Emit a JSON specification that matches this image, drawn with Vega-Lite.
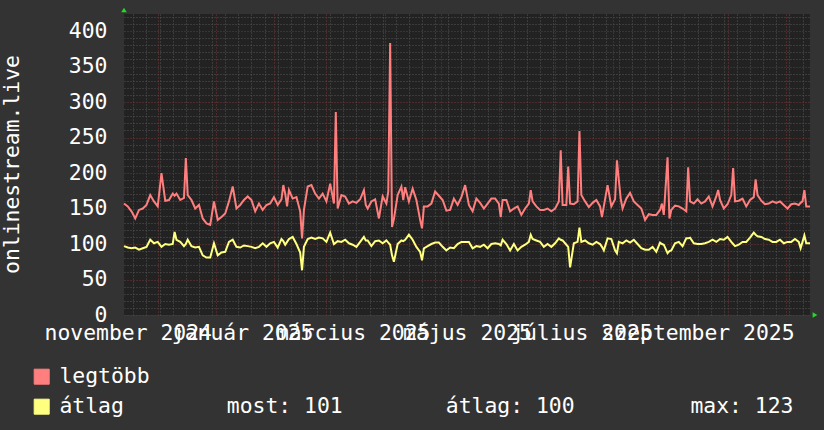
{
"$schema": "https://vega.github.io/schema/vega-lite/v6.json",
"width": 686, "height": 301,
"autosize": {"type": "none"},
"padding": {"left": 124, "top": 14, "right": 14, "bottom": 115},
"background": "#333333",
"config": {"view": {"fill": "#222222", "stroke": null}, "font": "DejaVu Sans Mono"},
"data": {"values": [
{"t":"2024-11-13","legtöbb":157,"átlag":97},{"t":"2024-11-15","legtöbb":153,"átlag":95},{"t":"2024-11-17","legtöbb":146,"átlag":94},{"t":"2024-11-19","legtöbb":136,"átlag":95},{"t":"2024-11-21","legtöbb":148,"átlag":92},{"t":"2024-11-23","legtöbb":150,"átlag":94},{"t":"2024-11-25","legtöbb":155,"átlag":96},{"t":"2024-11-27","legtöbb":169,"átlag":106},{"t":"2024-11-29","legtöbb":160,"átlag":101},
{"t":"2024-12-01","legtöbb":153,"átlag":103},{"t":"2024-12-03","legtöbb":200,"átlag":96},{"t":"2024-12-05","legtöbb":161,"átlag":100},{"t":"2024-12-07","legtöbb":162,"átlag":99},{"t":"2024-12-09","legtöbb":171,"átlag":100},{"t":"2024-12-10","legtöbb":168,"átlag":117},{"t":"2024-12-11","legtöbb":171,"átlag":106},{"t":"2024-12-13","legtöbb":162,"átlag":103},{"t":"2024-12-15","legtöbb":165,"átlag":97},{"t":"2024-12-16","legtöbb":221,"átlag":100},{"t":"2024-12-17","legtöbb":169,"átlag":106},{"t":"2024-12-19","legtöbb":162,"átlag":97},{"t":"2024-12-21","legtöbb":150,"átlag":95},{"t":"2024-12-23","legtöbb":155,"átlag":96},{"t":"2024-12-25","legtöbb":136,"átlag":84},{"t":"2024-12-27","legtöbb":129,"átlag":81},{"t":"2024-12-29","legtöbb":127,"átlag":81},{"t":"2024-12-31","legtöbb":160,"átlag":101},
{"t":"2025-01-02","legtöbb":134,"átlag":84},{"t":"2025-01-04","legtöbb":138,"átlag":88},{"t":"2025-01-06","legtöbb":143,"átlag":89},{"t":"2025-01-08","legtöbb":160,"átlag":103},{"t":"2025-01-10","legtöbb":181,"átlag":106},{"t":"2025-01-12","legtöbb":150,"átlag":96},{"t":"2025-01-14","legtöbb":155,"átlag":95},{"t":"2025-01-16","legtöbb":162,"átlag":98},{"t":"2025-01-18","legtöbb":167,"átlag":97},{"t":"2025-01-20","legtöbb":162,"átlag":96},{"t":"2025-01-22","legtöbb":146,"átlag":94},{"t":"2025-01-24","legtöbb":157,"átlag":96},{"t":"2025-01-26","legtöbb":148,"átlag":101},{"t":"2025-01-28","legtöbb":155,"átlag":96},{"t":"2025-01-30","legtöbb":157,"átlag":101},
{"t":"2025-02-01","legtöbb":166,"átlag":103},{"t":"2025-02-03","legtöbb":155,"átlag":95},{"t":"2025-02-05","legtöbb":163,"átlag":107},{"t":"2025-02-06","legtöbb":183,"átlag":104},{"t":"2025-02-07","legtöbb":171,"átlag":99},{"t":"2025-02-08","legtöbb":153,"átlag":103},{"t":"2025-02-09","legtöbb":176,"átlag":107},{"t":"2025-02-11","legtöbb":164,"átlag":110},{"t":"2025-02-13","legtöbb":166,"átlag":100},{"t":"2025-02-15","legtöbb":146,"átlag":88},{"t":"2025-02-16","legtöbb":108,"átlag":63},{"t":"2025-02-17","legtöbb":148,"átlag":96},{"t":"2025-02-19","legtöbb":181,"átlag":107},{"t":"2025-02-21","legtöbb":183,"átlag":109},{"t":"2025-02-23","legtöbb":171,"átlag":107},{"t":"2025-02-25","legtöbb":164,"átlag":109},{"t":"2025-02-27","legtöbb":171,"átlag":108},
{"t":"2025-03-01","legtöbb":160,"átlag":103},{"t":"2025-03-03","legtöbb":185,"átlag":116},{"t":"2025-03-05","legtöbb":157,"átlag":100},{"t":"2025-03-06","legtöbb":286,"átlag":102},{"t":"2025-03-07","legtöbb":150,"átlag":104},{"t":"2025-03-09","legtöbb":169,"átlag":103},{"t":"2025-03-11","legtöbb":167,"átlag":106},{"t":"2025-03-13","legtöbb":157,"átlag":101},{"t":"2025-03-15","legtöbb":160,"átlag":99},{"t":"2025-03-17","legtöbb":158,"átlag":96},{"t":"2025-03-19","legtöbb":163,"átlag":103},{"t":"2025-03-21","legtöbb":176,"átlag":110},{"t":"2025-03-22","legtöbb":155,"átlag":105},{"t":"2025-03-23","legtöbb":150,"átlag":105},{"t":"2025-03-25","legtöbb":160,"átlag":97},{"t":"2025-03-27","legtöbb":163,"átlag":104},{"t":"2025-03-29","legtöbb":136,"átlag":105},{"t":"2025-03-31","legtöbb":167,"átlag":101},
{"t":"2025-04-02","legtöbb":157,"átlag":105},{"t":"2025-04-03","legtöbb":174,"átlag":102},{"t":"2025-04-04","legtöbb":383,"átlag":99},{"t":"2025-04-05","legtöbb":124,"átlag":84},{"t":"2025-04-06","legtöbb":135,"átlag":75},{"t":"2025-04-08","legtöbb":169,"átlag":100},{"t":"2025-04-10","legtöbb":181,"átlag":105},{"t":"2025-04-11","legtöbb":162,"átlag":104},{"t":"2025-04-12","legtöbb":180,"átlag":106},{"t":"2025-04-14","legtöbb":160,"átlag":113},{"t":"2025-04-16","legtöbb":178,"átlag":106},{"t":"2025-04-18","legtöbb":162,"átlag":96},{"t":"2025-04-20","legtöbb":134,"átlag":89},{"t":"2025-04-21","legtöbb":122,"átlag":77},{"t":"2025-04-22","legtöbb":153,"átlag":94},{"t":"2025-04-24","legtöbb":153,"átlag":97},{"t":"2025-04-26","legtöbb":157,"átlag":100},{"t":"2025-04-28","legtöbb":174,"átlag":102},{"t":"2025-04-30","legtöbb":168,"átlag":102},
{"t":"2025-05-02","legtöbb":162,"átlag":96},{"t":"2025-05-04","legtöbb":147,"átlag":91},{"t":"2025-05-06","legtöbb":148,"átlag":95},{"t":"2025-05-08","legtöbb":164,"átlag":94},{"t":"2025-05-10","legtöbb":155,"átlag":100},{"t":"2025-05-12","legtöbb":166,"átlag":103},{"t":"2025-05-14","legtöbb":183,"átlag":103},{"t":"2025-05-16","legtöbb":155,"átlag":103},{"t":"2025-05-18","legtöbb":146,"átlag":94},{"t":"2025-05-20","legtöbb":164,"átlag":97},{"t":"2025-05-22","legtöbb":158,"átlag":96},{"t":"2025-05-24","legtöbb":150,"átlag":99},{"t":"2025-05-26","legtöbb":157,"átlag":94},{"t":"2025-05-28","legtöbb":164,"átlag":100},{"t":"2025-05-30","legtöbb":164,"átlag":101},
{"t":"2025-06-01","legtöbb":157,"átlag":100},{"t":"2025-06-02","legtöbb":138,"átlag":98},{"t":"2025-06-03","legtöbb":162,"átlag":106},{"t":"2025-06-05","legtöbb":162,"átlag":100},{"t":"2025-06-07","legtöbb":146,"átlag":91},{"t":"2025-06-09","legtöbb":150,"átlag":100},{"t":"2025-06-11","legtöbb":153,"átlag":91},{"t":"2025-06-13","legtöbb":141,"átlag":96},{"t":"2025-06-15","legtöbb":150,"átlag":99},{"t":"2025-06-17","legtöbb":157,"átlag":103},{"t":"2025-06-18","legtöbb":176,"átlag":113},{"t":"2025-06-19","legtöbb":160,"átlag":107},{"t":"2025-06-21","legtöbb":153,"átlag":105},{"t":"2025-06-23","legtöbb":148,"átlag":103},{"t":"2025-06-25","legtöbb":148,"átlag":96},{"t":"2025-06-27","legtöbb":150,"átlag":100},{"t":"2025-06-29","legtöbb":146,"átlag":96},
{"t":"2025-07-01","legtöbb":150,"átlag":101},{"t":"2025-07-03","legtöbb":160,"átlag":108},{"t":"2025-07-04","legtöbb":232,"átlag":106},{"t":"2025-07-05","legtöbb":155,"átlag":105},{"t":"2025-07-07","legtöbb":155,"átlag":99},{"t":"2025-07-08","legtöbb":209,"átlag":96},{"t":"2025-07-09","legtöbb":157,"átlag":67},{"t":"2025-07-11","legtöbb":156,"átlag":101},{"t":"2025-07-13","legtöbb":160,"átlag":103},{"t":"2025-07-14","legtöbb":259,"átlag":123},{"t":"2025-07-15","legtöbb":169,"átlag":103},{"t":"2025-07-17","legtöbb":160,"átlag":105},{"t":"2025-07-19","legtöbb":152,"átlag":101},{"t":"2025-07-21","legtöbb":158,"átlag":99},{"t":"2025-07-23","legtöbb":162,"átlag":103},{"t":"2025-07-25","legtöbb":153,"átlag":100},{"t":"2025-07-26","legtöbb":138,"átlag":96},{"t":"2025-07-27","legtöbb":153,"átlag":91},{"t":"2025-07-29","legtöbb":183,"átlag":108},{"t":"2025-07-31","legtöbb":153,"átlag":107},
{"t":"2025-08-02","legtöbb":163,"átlag":91},{"t":"2025-08-03","legtöbb":218,"átlag":87},{"t":"2025-08-04","legtöbb":190,"átlag":103},{"t":"2025-08-05","legtöbb":164,"átlag":102},{"t":"2025-08-06","legtöbb":150,"átlag":101},{"t":"2025-08-08","legtöbb":164,"átlag":105},{"t":"2025-08-10","legtöbb":172,"átlag":102},{"t":"2025-08-12","legtöbb":160,"átlag":106},{"t":"2025-08-14","legtöbb":155,"átlag":100},{"t":"2025-08-16","legtöbb":150,"átlag":94},{"t":"2025-08-18","legtöbb":134,"átlag":92},{"t":"2025-08-20","legtöbb":142,"átlag":92},{"t":"2025-08-22","legtöbb":141,"átlag":96},{"t":"2025-08-24","legtöbb":141,"átlag":89},{"t":"2025-08-26","legtöbb":148,"átlag":102},{"t":"2025-08-27","legtöbb":157,"átlag":100},{"t":"2025-08-28","legtöbb":141,"átlag":99},{"t":"2025-08-30","legtöbb":222,"átlag":87},{"t":"2025-08-31","legtöbb":136,"átlag":90},
{"t":"2025-09-01","legtöbb":148,"átlag":91},{"t":"2025-09-03","legtöbb":154,"átlag":101},{"t":"2025-09-05","legtöbb":153,"átlag":103},{"t":"2025-09-07","legtöbb":150,"átlag":97},{"t":"2025-09-09","legtöbb":146,"átlag":108},{"t":"2025-09-10","legtöbb":208,"átlag":108},{"t":"2025-09-11","legtöbb":160,"átlag":109},{"t":"2025-09-13","legtöbb":157,"átlag":101},{"t":"2025-09-15","legtöbb":163,"átlag":100},{"t":"2025-09-17","legtöbb":157,"átlag":100},{"t":"2025-09-19","legtöbb":160,"átlag":101},{"t":"2025-09-21","legtöbb":167,"átlag":103},{"t":"2025-09-23","legtöbb":153,"átlag":106},{"t":"2025-09-25","legtöbb":167,"átlag":103},{"t":"2025-09-26","legtöbb":176,"átlag":105},{"t":"2025-09-27","legtöbb":162,"átlag":107},{"t":"2025-09-29","legtöbb":150,"átlag":106},
{"t":"2025-10-01","legtöbb":156,"átlag":110},{"t":"2025-10-03","legtöbb":169,"átlag":103},{"t":"2025-10-04","legtöbb":207,"átlag":100},{"t":"2025-10-05","legtöbb":160,"átlag":97},{"t":"2025-10-07","legtöbb":161,"átlag":99},{"t":"2025-10-09","legtöbb":164,"átlag":103},{"t":"2025-10-11","legtöbb":153,"átlag":103},{"t":"2025-10-13","legtöbb":162,"átlag":109},{"t":"2025-10-15","legtöbb":166,"átlag":116},{"t":"2025-10-16","legtöbb":191,"átlag":113},{"t":"2025-10-17","legtöbb":169,"átlag":111},{"t":"2025-10-19","legtöbb":161,"átlag":110},{"t":"2025-10-21","legtöbb":156,"átlag":107},{"t":"2025-10-23","legtöbb":157,"átlag":106},{"t":"2025-10-25","legtöbb":160,"átlag":103},{"t":"2025-10-27","legtöbb":158,"átlag":103},{"t":"2025-10-29","legtöbb":160,"átlag":106},{"t":"2025-10-31","legtöbb":155,"átlag":101},
{"t":"2025-11-02","legtöbb":150,"átlag":103},{"t":"2025-11-04","legtöbb":156,"átlag":103},{"t":"2025-11-06","legtöbb":157,"átlag":107},{"t":"2025-11-08","legtöbb":155,"átlag":103},{"t":"2025-11-09","legtöbb":158,"átlag":94},{"t":"2025-11-10","legtöbb":160,"átlag":103},{"t":"2025-11-11","legtöbb":176,"átlag":112},{"t":"2025-11-12","legtöbb":153,"átlag":101},{"t":"2025-11-14","legtöbb":153,"átlag":101}
]},
"layer": [
{
"transform": [{"fold": ["legtöbb", "átlag"], "as": ["sorozat", "v"]}],
"mark": {"type": "line", "strokeWidth": 2},
"encoding": {
"x": {"field": "t", "type": "temporal", "scale": {"type": "utc", "domain": [1731456000000, 1763078400000]},
"axis": {"orient": "bottom", "values": [1731888000000,1732492800000,1733097600000,1733702400000,1734307200000,1734912000000,1735516800000,1736121600000,1736726400000,1737331200000,1737936000000,1738540800000,1739145600000,1739750400000,1740355200000,1740960000000,1741564800000,1742169600000,1742774400000,1743379200000,1743984000000,1744588800000,1745193600000,1745798400000,1746403200000,1747008000000,1747612800000,1748217600000,1748822400000,1749427200000,1750032000000,1750636800000,1751241600000,1751846400000,1752451200000,1753056000000,1753660800000,1754265600000,1754870400000,1755475200000,1756080000000,1756684800000,1757289600000,1757894400000,1758499200000,1759104000000,1759708800000,1760313600000,1760918400000,1761523200000,1762128000000,1762732800000],
"grid": true, "gridColor": "#555555", "gridDash": [1, 2], "gridWidth": 1, "labels": false, "ticks": false, "domain": false, "title": null}},
"y": {"field": "v", "type": "quantitative", "scale": {"domain": [0, 424], "nice": false},
"axis": {"orient": "left", "values": [10,20,30,40,60,70,80,90,110,120,130,140,160,170,180,190,210,220,230,240,260,270,280,290,310,320,330,340,360,370,380,390,410,420],
"grid": true, "gridColor": "#555555", "gridDash": [1, 2], "gridWidth": 1, "labels": false, "ticks": false, "domain": false, "title": null}},
"color": {"field": "sorozat", "type": "nominal", "scale": {"domain": ["legtöbb", "átlag"], "range": ["#ff7f7f", "#ffff80"]},
"legend": {"orient": "none", "legendX": -93, "legendY": 352, "direction": "vertical", "title": null, "padding": 0,
"symbolType": "square", "symbolSize": 225, "labelFont": "DejaVu Sans Mono", "labelFontSize": 21.4, "labelColor": "#ffffff", "labelOffset": 7, "rowPadding": 7, "labelLimit": 900,
"labelExpr": "datum.label == 'átlag' ? 'átlag\u00a0\u00a0\u00a0\u00a0\u00a0\u00a0\u00a0\u00a0most: 101\u00a0\u00a0\u00a0\u00a0\u00a0\u00a0\u00a0\u00a0átlag: 100\u00a0\u00a0\u00a0\u00a0\u00a0\u00a0\u00a0\u00a0\u00a0max: 123' : datum.label",
"encode": {"symbols": {"update": {"fill": {"scale": "color", "field": "value"}, "fillOpacity": {"value": 1}, "stroke": {"value": "#000000"}, "strokeWidth": {"value": 1}, "opacity": {"value": 1}}}}}}
}
},
{
"data": {"values": [{}]},
"mark": {"type": "point", "shape": "triangle-up", "filled": true, "size": 30, "color": "#22dd22", "opacity": 1, "yOffset": -4},
"encoding": {
"x": {"datum": 1731456000000, "type": "temporal",
"axis": {"orient": "bottom", "values": [1733011200000,1735689600000,1738368000000,1740787200000,1743465600000,1746057600000,1748736000000,1751328000000,1754006400000,1756684800000,1759276800000,1761955200000],
"grid": true, "gridColor": "#7a3434", "gridDash": [1, 2], "gridWidth": 1, "labels": false, "ticks": false, "domain": false, "title": null}},
"y": {"datum": 424, "type": "quantitative",
"axis": {"orient": "left", "values": [0,50,100,150,200,250,300,350,400], "grid": true, "gridColor": "#7a3434", "gridDash": [1, 2], "gridWidth": 1,
"ticks": false, "domain": false, "labelFont": "DejaVu Sans Mono", "labelFontSize": 21.4, "labelColor": "#ffffff", "labelPadding": 17, "labelFlush": false, "labelOverlap": false,
"title": "onlinestream.live", "titleFont": "DejaVu Sans Mono", "titleFontSize": 21.4, "titleFontWeight": "normal", "titleColor": "#ffffff", "titleAngle": -90, "titleX": -112, "titleY": 150, "titleAlign": "center", "titleBaseline": "middle"}}
}
},
{
"data": {"values": [{}]},
"mark": {"type": "point", "shape": "triangle-right", "filled": true, "size": 30, "color": "#22dd22", "opacity": 1, "xOffset": 5},
"encoding": {
"x": {"datum": 1763078400000, "type": "temporal",
"axis": {"orient": "bottom", "values": [1731628800000,1736899200000,1741996800000,1747267200000,1752537600000,1757894400000],
"labelExpr": "['január','február','március','április','május','június','július','augusztus','szeptember','október','november','december'][utcmonth(datum.value)] + ' ' + utcyear(datum.value)",
"grid": false, "ticks": false, "domain": false, "labelFont": "DejaVu Sans Mono", "labelFontSize": 21.4, "labelColor": "#ffffff", "labelPadding": 7, "labelOverlap": false, "labelFlush": false, "labelBound": false, "labelLimit": 400, "title": null}},
"y": {"datum": 0, "type": "quantitative", "axis": null}
}
}
],
"resolve": {"axis": {"x": "independent", "y": "independent"}}
}
